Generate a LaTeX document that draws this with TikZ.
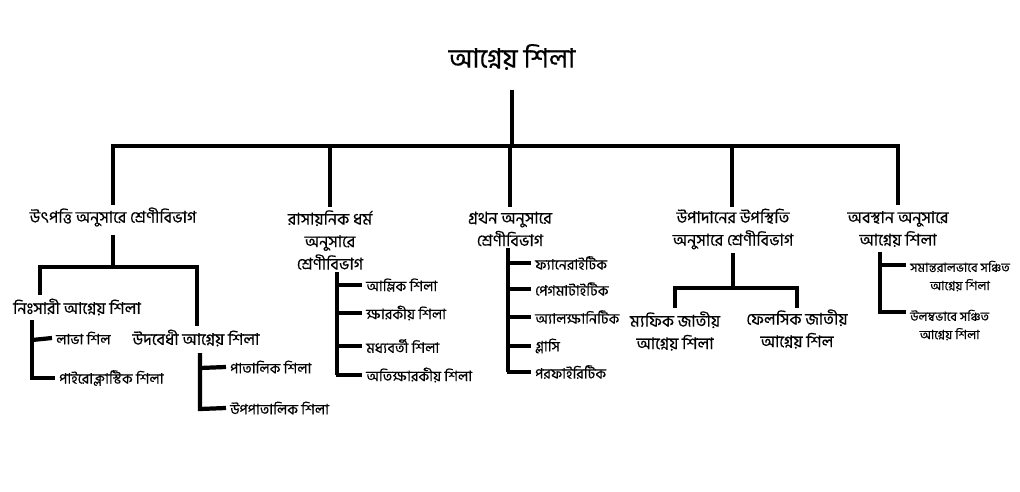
\documentclass[tikz,border=0pt]{standalone}
\usepackage{fontspec}
\newfontfamily\bnfont[Script=Bengali,FakeBold=0.4]{Hind Siliguri}
\begin{document}
\begin{tikzpicture}[x=0.025cm,y=-0.025cm,line width=3pt,
    title/.style={font=\bnfont\fontsize{19}{22}\selectfont,inner sep=0pt},
    head/.style={font=\bnfont\fontsize{11.6}{16}\selectfont,inner sep=0pt,align=center},
    leaf/.style={font=\bnfont\fontsize{10.2}{14}\selectfont,inner sep=0pt,outer sep=3pt,anchor=west},
    small/.style={font=\bnfont\fontsize{9}{13}\selectfont,inner sep=0pt,outer sep=3pt,align=center,anchor=west}]
    \useasboundingbox (0,0) rectangle (1020,492);

    % title and main bus
    \node[title] (root) at (512,57) {আগ্নেয় শিলা};
    \coordinate (bus) at (512,146);
    \draw ([yshift=-0.45cm]root.south) -- (bus);
    \draw (113,205) -- (113,146) -- (898,146) -- (898,205);
    \foreach \x in {330,510,732}
        \draw (\x,146) -- (\x,207);

    % first-level heads
    \node[head] (g1) at (113,217) {উৎপত্তি অনুসারে শ্রেণীবিভাগ};
    \node[head] (g2) at (330,240) {রাসায়নিক ধর্ম\\অনুসারে\\শ্রেণীবিভাগ};
    \node[head] (g3) at (510,229) {গ্রথন অনুসারে\\শ্রেণীবিভাগ};
    \node[head] (g4) at (733,229) {উপাদানের উপস্থিতি\\অনুসারে শ্রেণীবিভাগ};
    \node[head] (g5) at (898,229) {অবস্থান অনুসারে\\আগ্নেয় শিলা};

    % group 1
    \coordinate (j1) at (113,267);
    \draw (113,235) -- (j1);
    \draw (40,295) -- (40,267) -- (197,267) -- (197,326);
    \node[head,anchor=west] (n1) at (11,307) {নিঃসারী আগ্নেয় শিলা};
    \node[head] (u1) at (196,338) {উদবেধী আগ্নেয় শিলা};
    \node[leaf] (n1a) at (52,338) {লাভা শিল};
    \node[leaf] (n1b) at (55,378) {পাইরোক্লাস্টিক শিলা};
    \draw (32,320) -- (32,378) -- (n1b.west);
    \draw (32,340) -- (n1a.west);
    \node[leaf] (u1a) at (226,367) {পাতালিক শিলা};
    \node[leaf] (u1b) at (226,408) {উপপাতালিক শিলা};
    \draw (200,353) -- (200,409) -- (u1b.west);
    \draw (200,368) -- (u1a.west);

    % group 2
    \draw (337,272) -- (337,375);
    \foreach \t/\y [count=\i] in {আম্লিক শিলা/285,ক্ষারকীয় শিলা/313,মধ্যবর্তী শিলা/346,অতিক্ষারকীয় শিলা/375}{
        \node[leaf] (c\i) at (362,\y) {\t};
        \draw (336,\y) -- (c\i.west);
    }

    % group 3
    \draw (508,248) -- (508,372);
    \foreach \t/\y [count=\i] in {ফ্যানেরাইটিক/263,পেগমাটাইটিক/289,অ্যালক্ষানিটিক/317,গ্লাসি/346,পরফাইরিটিক/372}{
        \node[leaf] (t\i) at (531,\y) {\t};
        \draw (507,\y) -- (t\i.west);
    }

    % group 4
    \coordinate (j4) at (733,288);
    \draw (733,253) -- (j4);
    \draw (675,308) -- (675,288) -- (797,288) -- (797,308);
    \node[head] (m4) at (675,331) {ম্যফিক জাতীয়\\আগ্নেয় শিলা};
    \node[head] (f4) at (797,329) {ফেলসিক জাতীয়\\আগ্নেয় শিল};

    % group 5
    \node[small] (p5) at (906,276) {সমান্তরালভাবে সঞ্চিত\\আগ্নেয় শিলা};
    \node[small] (v5) at (906,325) {উলম্বভাবে সঞ্চিত\\আগ্নেয় শিলা};
    \draw (880,252) -- (880,312) -- (v5.west |- 880,312);
    \draw (880,265) -- (p5.west |- 880,265);
\end{tikzpicture}
\end{document}
